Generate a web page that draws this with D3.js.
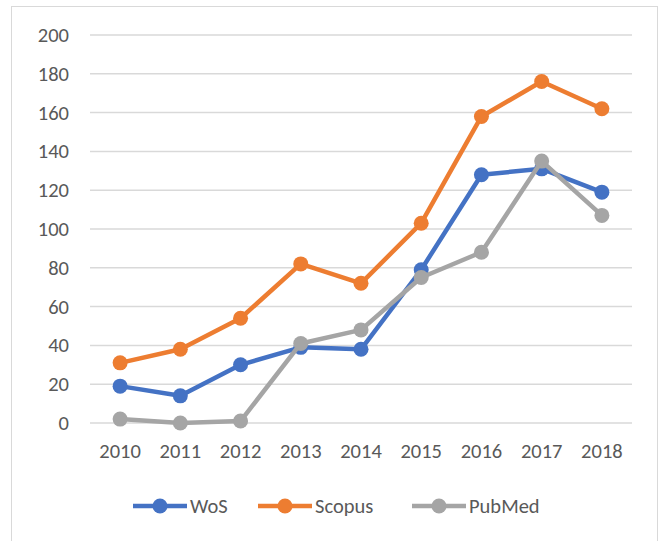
<!DOCTYPE html>
<html><head><meta charset="utf-8">
<script src="https://cdn.jsdelivr.net/npm/d3@7"></script>
<style>body{margin:0;background:#fff}svg{display:block}</style>
</head><body>
<script>
const years = ["2010","2011","2012","2013","2014","2015","2016","2017","2018"];
const wos = [19,14,30,39,38,79,128,131,119];
const scopus = [31,38,54,82,72,103,158,176,162];
const pubmed = [2,0,1,41,48,75,88,135,107];
const seriesNames = ["WoS","Scopus","PubMed"];
const seriesColors = ["#4472C4","#ED7D31","#A5A5A5"];
const yTicks = [0,20,40,60,80,100,120,140,160,180,200];

const W=665,H=541;
const font = "Carlito, Lato, sans-serif";
const fs = 20.5;
const svg = d3.select("body").append("svg").attr("width",W).attr("height",H);
svg.append("rect").attr("x",11.5).attr("y",6.5).attr("width",646).attr("height",545)
  .attr("fill","#fff").attr("stroke","#D9D9D9").attr("stroke-width",1);

const x = d3.scaleBand().domain(years).range([90,632]);
const y = d3.scaleLinear().domain([0,200]).range([423,35]);

const grid = svg.append("g");
grid.selectAll("line").data(yTicks).join("line")
  .attr("x1",90).attr("x2",632).attr("y1",d=>y(d)).attr("y2",d=>y(d))
  .attr("stroke","#D9D9D9").attr("stroke-width",1.5);

const yAxis = svg.append("g").attr("transform","translate(90,0)")
  .call(d3.axisLeft(y).tickValues(yTicks).tickSize(0).tickPadding(21));
yAxis.select(".domain").remove();
yAxis.selectAll("text").attr("font-family",font).attr("font-size",fs).attr("fill","#595959");

const xAxis = svg.append("g").attr("transform","translate(0,423)")
  .call(d3.axisBottom(x).tickSize(0).tickPadding(20));
xAxis.select(".domain").remove();
xAxis.selectAll("text").attr("font-family",font).attr("font-size",fs).attr("fill","#595959");

const data = [wos,scopus,pubmed];
const line = d3.line().x((d,i)=>x(years[i])+x.bandwidth()/2).y(d=>y(d));
data.forEach((vals,k)=>{
  const g = svg.append("g");
  g.append("path").attr("d",line(vals)).attr("fill","none")
    .attr("stroke",seriesColors[k]).attr("stroke-width",4.5).attr("stroke-linejoin","round");
  g.selectAll("circle").data(vals).join("circle")
    .attr("cx",(d,i)=>x(years[i])+x.bandwidth()/2).attr("cy",d=>y(d)).attr("r",7.5)
    .attr("fill",seriesColors[k]);
});

const legX = [133,258,412];
const leg = svg.append("g");
seriesNames.forEach((n,k)=>{
  const gx = legX[k], gy = 506;
  leg.append("line").attr("x1",gx).attr("x2",gx+54).attr("y1",gy).attr("y2",gy)
    .attr("stroke",seriesColors[k]).attr("stroke-width",4.5);
  leg.append("circle").attr("cx",gx+27).attr("cy",gy).attr("r",7.5).attr("fill",seriesColors[k]);
  leg.append("text").attr("x",gx+57).attr("y",gy).attr("dy","0.35em")
    .attr("font-family",font).attr("font-size",fs).attr("fill","#595959").text(n);
});
</script>
</body></html>
